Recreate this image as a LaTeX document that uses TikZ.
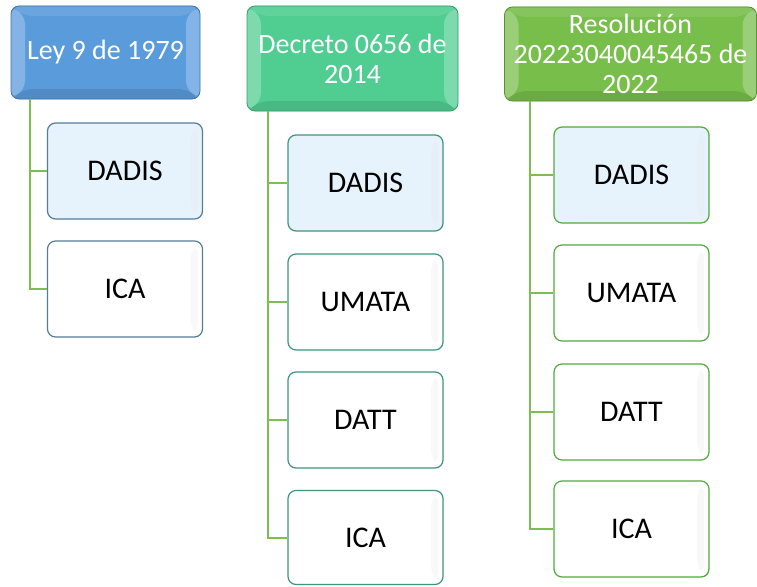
\documentclass[tikz,border=0pt]{standalone}
\usepackage{fontspec}
\setmainfont{Carlito}
\usetikzlibrary{calc}
\definecolor{hblue}{HTML}{5A9BDC}
\definecolor{hmint}{HTML}{50CD91}
\definecolor{hgreen}{HTML}{78BE4B}
\definecolor{linegreen}{HTML}{7DBE50}
\definecolor{bblue}{HTML}{557D99}
\definecolor{bteal}{HTML}{3C9678}
\definecolor{bgreen}{HTML}{50AA3C}
\definecolor{lightfill}{HTML}{E6F2FC}
\tikzset{
  conn/.style={draw=linegreen, line width=2pt},
  hdr/.style={rounded corners=8pt, draw=#1!75!black, fill=#1, text=white, align=center,
    font=\fontsize{28}{30}\selectfont, inner sep=0pt, line width=0.8pt,
    path picture={
      \fill[#1!75!white] (path picture bounding box.north west) -- ([shift={(14,10)}]path picture bounding box.north west) -- ([shift={(14,-10)}]path picture bounding box.south west) -- (path picture bounding box.south west) -- cycle;
      \fill[#1!75!white] (path picture bounding box.north east) -- ([shift={(-14,10)}]path picture bounding box.north east) -- ([shift={(-14,-10)}]path picture bounding box.south east) -- (path picture bounding box.south east) -- cycle;
      \fill[#1!90!white] (path picture bounding box.north west) -- (path picture bounding box.north east) -- ([shift={(-14,10)}]path picture bounding box.north east) -- ([shift={(14,10)}]path picture bounding box.north west) -- cycle;
      \fill[#1!90!black] (path picture bounding box.south west) -- (path picture bounding box.south east) -- ([shift={(-14,-10)}]path picture bounding box.south east) -- ([shift={(14,-10)}]path picture bounding box.south west) -- cycle;
    }},
  kid/.style 2 args={rounded corners=8pt, draw=#1, fill=#2, text=black, align=center,
    font=\fontsize{30}{32}\selectfont, inner sep=0pt, line width=1.2pt,
    minimum width=155pt, minimum height=96pt,
    path picture={
      \fill[#2!96!black!70!white] ([shift={(-12,10)}]path picture bounding box.north east) -- ([shift={(-5,4)}]path picture bounding box.north east) -- ([shift={(-5,-4)}]path picture bounding box.south east) -- ([shift={(-12,-10)}]path picture bounding box.south east) -- cycle;
    }},
}
\begin{document}
\begin{tikzpicture}[x=1pt,y=-1pt]
\useasboundingbox (0,0) rectangle (757,586);
% column 1
\node[hdr=hblue, minimum width=189pt, minimum height=93pt] (h1) at (105.5,52.5) {Ley 9 de 1979};
\node[kid={bblue}{lightfill}] (a1) at (125,171) {DADIS};
\node[kid={bblue}{white}] (a2) at (125,289) {ICA};
\coordinate (s1) at ([xshift=19pt]h1.south west);
\draw[conn] (s1) |- (a2.west);
\draw[conn] (a1.west) -- (a1.west -| s1);
% column 2
\node[hdr=hmint, minimum width=211pt, minimum height=105pt] (h2) at (352.5,58.5) {Decreto 0656 de\\2014};
\node[kid={bteal}{lightfill}] (b1) at (365.5,183) {DADIS};
\node[kid={bteal}{white}] (b2) at (365.5,302) {UMATA};
\node[kid={bteal}{white}] (b3) at (365.5,420) {DATT};
\node[kid={bteal}{white}, minimum height=94pt] (b4) at (365.5,537.5) {ICA};
\coordinate (s2) at ([xshift=21pt]h2.south west);
\draw[conn] (s2) |- (b4.west);
\draw[conn] (b1.west) -- (b1.west -| s2);
\draw[conn] (b2.west) -- (b2.west -| s2);
\draw[conn] (b3.west) -- (b3.west -| s2);
% column 3
\node[hdr=hgreen, minimum width=252pt, minimum height=94pt] (h3) at (630.5,54) {Resolución\\20223040045465 de\\2022};
\node[kid={bgreen}{lightfill}] (c1) at (631.5,175) {DADIS};
\node[kid={bgreen}{white}] (c2) at (631.5,293) {UMATA};
\node[kid={bgreen}{white}] (c3) at (631.5,412) {DATT};
\node[kid={bgreen}{white}] (c4) at (631.5,529) {ICA};
\coordinate (s3) at ([xshift=26pt]h3.south west);
\draw[conn] (s3) |- (c4.west);
\draw[conn] (c1.west) -- (c1.west -| s3);
\draw[conn] (c2.west) -- (c2.west -| s3);
\draw[conn] (c3.west) -- (c3.west -| s3);
\end{tikzpicture}
\end{document}
